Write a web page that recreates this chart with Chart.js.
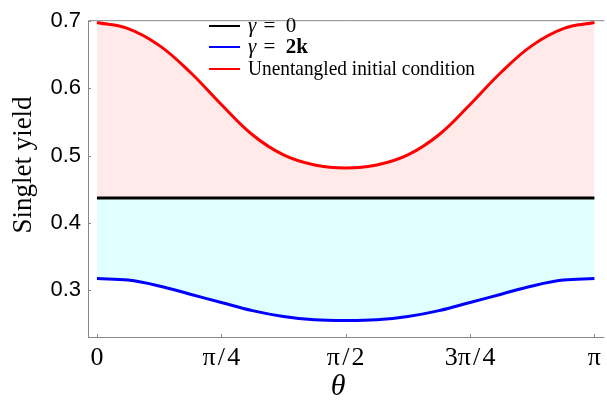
<!DOCTYPE html>
<html>
<head>
<meta charset="utf-8">
<script src="https://cdn.jsdelivr.net/npm/chart.js@4.4.1/dist/chart.umd.min.js"></script>
<style>
  html, body { margin: 0; padding: 0; background: #fff; }
  #wrap { width: 607px; height: 400px; position: relative; }
</style>
</head>
<body>
<div id="wrap"><canvas id="yieldChart"></canvas></div>
<script>
// theta / pi
const thetaOverPi = [0, 0.0625, 0.125, 0.1875, 0.25, 0.3125, 0.375, 0.4375, 0.5,
                     0.5625, 0.625, 0.6875, 0.75, 0.8125, 0.875, 0.9375, 1];

const yieldGamma0 = [0.437, 0.437, 0.437, 0.437, 0.437, 0.437, 0.437, 0.437, 0.437,
                     0.437, 0.437, 0.437, 0.437, 0.437, 0.437, 0.437, 0.437];
const yieldGamma2k = [0.317, 0.3147, 0.306, 0.2937, 0.2814, 0.2692, 0.2604, 0.2556, 0.2545,
                      0.2556, 0.2604, 0.2692, 0.2814, 0.2937, 0.306, 0.3147, 0.317];
const yieldUnentangled = [0.698, 0.689, 0.664, 0.624, 0.576, 0.531, 0.501, 0.486, 0.4815,
                          0.486, 0.501, 0.531, 0.576, 0.624, 0.664, 0.689, 0.698];

const xTickValues = [0, 0.25, 0.5, 0.75, 1];
const xTickLabels = ['0', 'π\u200A/\u200A4', 'π\u200A/\u200A2', '3π\u200A/\u200A4', 'π'];
const yTickValues = [0.3, 0.4, 0.5, 0.6, 0.7];
const yTickLabels = ['0.3', '0.4', '0.5', '0.6', '0.7'];

const seriesLabels = ['γ = 0', 'γ = 2k', 'Unentangled initial condition'];

function toPoints(ys) {
    return thetaOverPi.map((t, i) => ({ x: t, y: ys[i] }));
}

// frame, small inward ticks, axis titles and legend
const decorations = {
    id: 'decorations',
    afterDraw(chart) {
        const ctx = chart.ctx;
        const a = chart.chartArea;
        const xs = chart.scales.x;
        const ys = chart.scales.y;
        ctx.save();
        ctx.strokeStyle = '#888';
        ctx.lineWidth = 1;
        ctx.beginPath();
        ctx.moveTo(a.left + 0.5, a.bottom + 0.5);
        ctx.lineTo(a.left + 0.5, a.top + 0.5);
        ctx.lineTo(a.right, a.top + 0.5);
        ctx.moveTo(a.left, a.bottom + 0.5);
        ctx.lineTo(a.right, a.bottom + 0.5);
        xTickValues.forEach(v => {
            const px = Math.round(xs.getPixelForValue(v)) + 0.5;
            ctx.moveTo(px, a.bottom);
            ctx.lineTo(px, a.bottom - 3);
        });
        yTickValues.forEach(v => {
            const py = Math.round(ys.getPixelForValue(v)) + 0.5;
            ctx.moveTo(a.left, py);
            ctx.lineTo(a.left + 3, py);
        });
        ctx.stroke();

        // axis titles
        ctx.fillStyle = '#000';
        ctx.textAlign = 'center';
        ctx.textBaseline = 'middle';
        ctx.font = 'italic 30px "Liberation Serif"';
        ctx.fillText('θ', 338, 387);
        ctx.save();
        ctx.translate(24, 165);
        ctx.rotate(-Math.PI / 2);
        ctx.font = '27px "Liberation Serif"';
        ctx.fillText('Singlet yield', 0, 0);
        ctx.restore();

        // legend
        const rows = [32, 53, 75];
        const colors = chart.data.datasets.map(d => d.borderColor);
        ctx.textAlign = 'left';
        ctx.textBaseline = 'alphabetic';
        rows.forEach((y, i) => {
            ctx.strokeStyle = colors[i];
            ctx.lineWidth = 2;
            ctx.beginPath();
            ctx.moveTo(209, y - 6);
            ctx.lineTo(240, y - 6);
            ctx.stroke();
        });
        const base = '"Liberation Serif"';
        function part(text, font, x, y) {
            ctx.font = font;
            ctx.fillText(text, x, y);
            return x + ctx.measureText(text).width;
        }
        let x = part('γ', 'italic 21px ' + base, 248, rows[0]);
        x = part(' =  0', '21px ' + base, x + 2, rows[0]);
        x = part('γ', 'italic 21px ' + base, 248, rows[1]);
        x = part(' =  ', '21px ' + base, x + 2, rows[1]);
        part('2k', 'bold 21px ' + base, x, rows[1]);
        ctx.font = '21px ' + base;
        const label = seriesLabels[2];
        const w = ctx.measureText(label).width;
        ctx.save();
        ctx.translate(248, rows[2]);
        ctx.scale(227 / w, 1);
        ctx.fillText(label, 0, 0);
        ctx.restore();
        ctx.restore();
    }
};

const ctx = document.getElementById('yieldChart').getContext('2d');
const chart = new Chart(ctx, {
    type: 'line',
    data: {
        datasets: [
            {
                label: seriesLabels[0],
                data: toPoints(yieldGamma0),
                borderColor: '#000000',
                borderWidth: 3,
                pointRadius: 0,
                fill: false,
            },
            {
                label: seriesLabels[1],
                data: toPoints(yieldGamma2k),
                borderColor: '#0000ff',
                borderWidth: 3,
                pointRadius: 0,
                tension: 0.4,
                fill: { target: 0, above: 'rgb(224,255,255)', below: 'rgb(224,255,255)' },
            },
            {
                label: seriesLabels[2],
                data: toPoints(yieldUnentangled),
                borderColor: '#ff0000',
                borderWidth: 3,
                pointRadius: 0,
                tension: 0.4,
                fill: { target: 0, above: 'rgb(255,233,233)', below: 'rgb(255,233,233)' },
            },
        ]
    },
    options: {
        responsive: true,
        maintainAspectRatio: false,
        animation: false,
        layout: { padding: { top: 15, right: 0, left: 0, bottom: 0 } },
        plugins: {
            legend: { display: false },
            tooltip: { enabled: false },
        },
        scales: {
            x: {
                type: 'linear',
                min: -0.018,
                max: 1.02,
                afterBuildTicks: s => { s.ticks = xTickValues.map(v => ({ value: v })); },
                afterFit: s => { s.height = 63; },
                grid: { drawOnChartArea: false, drawTicks: false },
                border: { display: false },
                ticks: {
                    padding: 6,
                    color: '#000',
                    maxRotation: 0,
                    autoSkip: false,
                    font: { family: 'Liberation Serif', size: 26 },
                    callback: (v, i) => xTickLabels[i],
                },
            },
            y: {
                min: 0.23,
                max: 0.7015,
                afterBuildTicks: s => { s.ticks = yTickValues.map(v => ({ value: v })); },
                afterFit: s => { s.width = 88; },
                grid: { drawOnChartArea: false, drawTicks: false },
                border: { display: false },
                ticks: {
                    padding: 7,
                    color: '#000',
                    autoSkip: false,
                    font: { family: 'Liberation Sans', size: 22 },
                    callback: (v, i) => yTickLabels[i],
                },
            },
        }
    },
    plugins: [decorations]
});
</script>
</body>
</html>
